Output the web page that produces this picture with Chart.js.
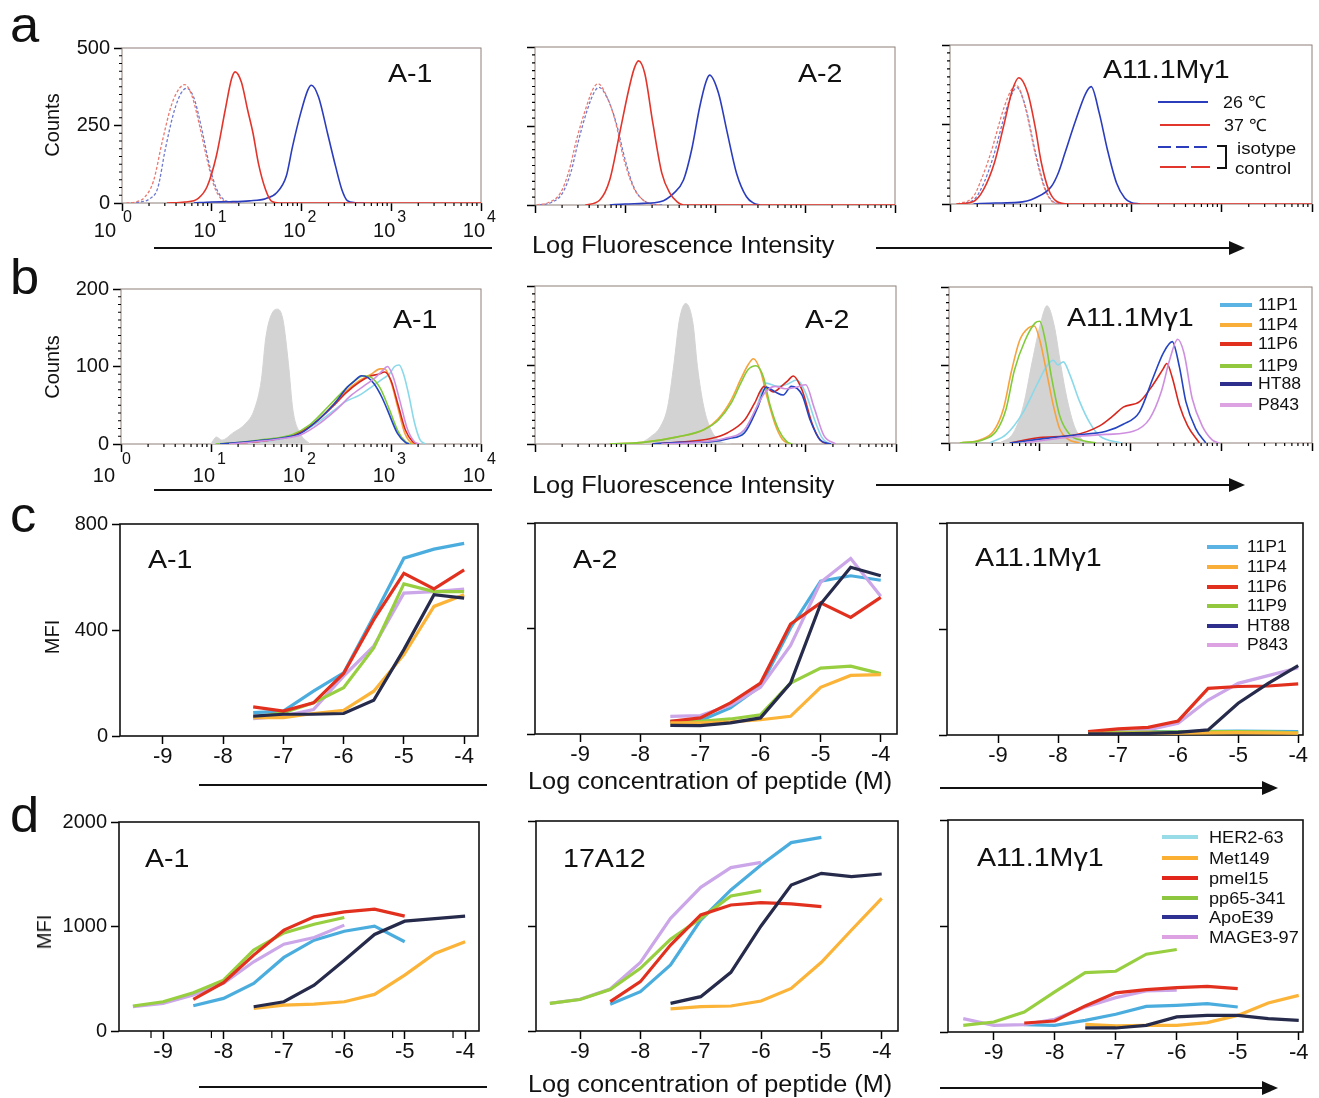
<!DOCTYPE html>
<html>
<head>
<meta charset="utf-8">
<title>Peptide binding panels</title>
<script src="https://cdn.jsdelivr.net/npm/chart.js@4.4.1/dist/chart.umd.min.js"></script>
<style>
html, body { margin: 0; padding: 0; background: #fff; }
#page { position: relative; width: 1319px; height: 1098px; overflow: hidden; font-family: 'Liberation Sans', Arial, sans-serif; color: #111; }
canvas { position: absolute; }
.t { position: absolute; white-space: nowrap; line-height: 1; transform-origin: 0 0; }
svg { position: absolute; left: 0; top: 0; }
</style>
</head>
<body>
<div id="page"></div>
<script>
// ---- histograms: x = log10 fluorescence, y = counts ----
const logDecades = [0, 1, 2, 3, 4];

// row a, A-1
const a1_iso26 = [[0.1,0],[0.2,3],[0.3,12],[0.4,50],[0.48,170],[0.58,295],[0.66,355],[0.72,370],[0.8,340],[0.88,250],[0.96,140],[1.04,55],[1.12,15],[1.22,2],[1.32,0]];
const a1_iso37 = [[0.05,0],[0.15,3],[0.25,18],[0.35,70],[0.45,200],[0.55,315],[0.64,370],[0.7,382],[0.78,345],[0.86,255],[0.94,150],[1.02,60],[1.1,15],[1.2,2],[1.3,0]];
const a1_t26 = [[0.8,0],[1.0,3],[1.2,4],[1.42,7],[1.6,14],[1.72,32],[1.83,86],[1.9,182],[1.99,289],[2.07,364],[2.11,380],[2.19,342],[2.29,225],[2.38,118],[2.45,43],[2.51,8],[2.6,1],[2.7,0]];
const a1_t37 = [[0.5,0],[0.7,3],[0.85,15],[0.95,54],[1.05,150],[1.15,300],[1.22,400],[1.26,423],[1.33,390],[1.4,300],[1.46,225],[1.52,128],[1.6,43],[1.67,5],[1.75,0],[4,0]];
// row a, A-2
const a2_iso26 = [[0.05,0],[0.18,8],[0.3,35],[0.4,105],[0.48,200],[0.58,300],[0.66,358],[0.71,372],[0.8,340],[0.9,262],[1.0,145],[1.1,55],[1.21,14],[1.32,2],[1.42,0]];
const a2_iso37 = [[0.02,0],[0.15,8],[0.28,37],[0.38,110],[0.46,205],[0.57,310],[0.65,370],[0.7,384],[0.8,342],[0.89,268],[0.98,153],[1.09,58],[1.2,16],[1.3,3],[1.39,0]];
const a2_t26 = [[0.83,0],[1.0,3],[1.2,5],[1.39,10],[1.54,37],[1.65,79],[1.74,174],[1.83,310],[1.9,390],[1.94,411],[2.04,353],[2.13,237],[2.24,100],[2.35,26],[2.43,6],[2.5,0]];
const a2_t37 = [[0.56,0],[0.72,16],[0.83,79],[0.94,226],[1.04,363],[1.1,430],[1.15,456],[1.22,416],[1.31,258],[1.41,100],[1.5,37],[1.58,10],[1.65,0],[4,0]];
// row a, A11.1Mγ1
const a3_iso26 = [[0.12,0],[0.28,18],[0.38,70],[0.48,150],[0.62,295],[0.7,355],[0.74,366],[0.83,310],[0.95,155],[1.06,42],[1.17,3],[1.27,0]];
const a3_iso37 = [[0.08,0],[0.26,24],[0.35,80],[0.45,160],[0.6,306],[0.68,360],[0.73,374],[0.82,317],[0.94,160],[1.05,45],[1.16,3],[1.25,0]];
const a3_t26 = [[0.26,0],[0.5,3],[0.75,5],[0.94,19],[1.12,55],[1.2,100],[1.27,160],[1.39,264],[1.5,348],[1.56,369],[1.65,285],[1.74,170],[1.84,66],[1.93,19],[2.0,5],[2.1,0]];
const a3_t37 = [[0.07,0],[0.26,8],[0.37,45],[0.49,129],[0.6,254],[0.69,359],[0.76,397],[0.86,348],[0.94,244],[1.01,129],[1.09,45],[1.18,8],[1.31,0],[4,0]];

// row b, A-1
const b1_ctrl = [[1.0,0],[1.06,9],[1.12,5],[1.24,14],[1.39,27],[1.48,44],[1.56,83],[1.61,138],[1.69,171],[1.74,174],[1.8,160],[1.86,104],[1.91,44],[1.99,14],[2.1,0]];
const b1_11P1 = [[1.15,0],[1.4,2],[1.7,5],[1.95,12],[2.15,25],[2.35,42],[2.5,55],[2.65,63],[2.8,75],[2.92,85],[2.98,90],[3.04,100],[3.09,102],[3.14,90],[3.2,62],[3.26,28],[3.32,6],[3.38,0]];
const b1_11P4 = [[1.1,0],[1.4,2],[1.7,6],[1.95,13],[2.15,27],[2.35,50],[2.5,68],[2.65,82],[2.78,90],[2.88,97],[2.93,97],[3.0,80],[3.08,45],[3.15,15],[3.22,2],[3.28,0]];
const b1_11P6 = [[1.1,0],[1.4,2],[1.7,6],[1.95,13],[2.15,27],[2.35,48],[2.5,66],[2.65,80],[2.78,88],[2.86,90],[2.93,93],[3.0,82],[3.08,50],[3.16,18],[3.24,3],[3.3,0]];
const b1_11P9 = [[1.05,0],[1.3,2],[1.6,6],[1.9,12],[2.1,25],[2.3,48],[2.45,66],[2.58,80],[2.7,88],[2.78,86],[2.88,72],[2.98,45],[3.08,16],[3.16,3],[3.22,0]];
const b1_HT88 = [[1.1,0],[1.3,2],[1.6,5],[1.8,8],[2.0,14],[2.19,31],[2.37,52],[2.52,74],[2.6,82],[2.67,88],[2.74,86],[2.81,78],[2.9,60],[2.96,44],[3.07,14],[3.16,2],[3.2,0]];
const b1_P843 = [[1.2,0],[1.5,3],[1.8,7],[2.0,12],[2.2,26],[2.4,45],[2.55,62],[2.7,75],[2.82,85],[2.9,94],[2.96,100],[3.02,88],[3.1,55],[3.18,20],[3.26,3],[3.32,0]];
// row b, A-2
const b2_ctrl = [[1.13,0],[1.2,3],[1.28,9],[1.39,22],[1.47,47],[1.54,102],[1.6,157],[1.67,178],[1.75,153],[1.8,98],[1.87,47],[1.95,18],[2.06,3],[2.17,0]];
const b2_11P1 = [[1.4,0],[1.8,2],[2.1,6],[2.3,14],[2.45,45],[2.56,77],[2.69,73],[2.8,76],[2.9,81],[3.0,64],[3.1,30],[3.18,8],[3.26,0]];
const b2_11P4 = [[0.83,0],[1.2,2],[1.58,9],[1.87,18],[2.03,32],[2.17,55],[2.28,82],[2.36,100],[2.42,108],[2.5,92],[2.57,60],[2.66,25],[2.74,6],[2.82,0]];
const b2_11P6 = [[1.3,0],[1.58,2],[1.95,7],[2.13,14],[2.32,30],[2.43,51],[2.54,73],[2.64,66],[2.73,73],[2.8,80],[2.86,86],[2.96,68],[3.07,26],[3.16,5],[3.24,0]];
const b2_11P9 = [[0.83,0],[1.2,2],[1.58,9],[1.87,18],[2.03,30],[2.17,51],[2.28,77],[2.36,94],[2.45,99],[2.53,85],[2.6,51],[2.7,18],[2.79,3],[2.85,0]];
const b2_HT88 = [[1.3,0],[1.6,2],[1.95,3],[2.15,7],[2.32,14],[2.47,47],[2.56,72],[2.66,66],[2.75,62],[2.84,73],[2.96,62],[3.05,30],[3.16,5],[3.28,0]];
const b2_P843 = [[1.4,0],[1.8,2],[2.1,7],[2.32,18],[2.45,45],[2.54,64],[2.66,73],[2.77,70],[2.9,72],[3.0,75],[3.09,47],[3.2,11],[3.33,0]];
// row b, A11.1Mγ1
const b3_ctrl = [[0.56,0],[0.71,13],[0.82,48],[0.92,106],[1.01,154],[1.08,176],[1.16,150],[1.23,101],[1.3,57],[1.38,22],[1.49,0]];
const b3_11P1 = [[0.45,0],[0.63,11],[0.82,40],[0.97,75],[1.08,99],[1.15,106],[1.2,100],[1.26,104],[1.33,88],[1.44,53],[1.55,26],[1.66,9],[1.9,0]];
const b3_11P4 = [[0.12,0],[0.34,4],[0.49,15],[0.6,44],[0.69,93],[0.78,132],[0.88,148],[0.94,150],[1.0,132],[1.08,88],[1.15,48],[1.22,18],[1.31,5],[1.44,0]];
const b3_11P6 = [[0.67,0],[1.0,7],[1.37,10],[1.66,22],[1.81,35],[1.92,46],[2.1,53],[2.25,75],[2.36,95],[2.4,102],[2.46,84],[2.54,48],[2.63,22],[2.76,0]];
const b3_11P9 = [[0.12,0],[0.37,4],[0.52,15],[0.63,44],[0.72,93],[0.84,132],[0.95,154],[1.0,156],[1.06,132],[1.13,84],[1.22,35],[1.33,11],[1.48,3],[1.62,0]];
const b3_HT88 = [[0.67,0],[1.0,5],[1.37,10],[1.73,15],[1.92,24],[2.1,40],[2.25,84],[2.36,115],[2.46,130],[2.54,97],[2.61,53],[2.72,18],[2.83,0]];
const b3_P843 = [[0.82,0],[1.37,8],[1.73,11],[2.03,15],[2.21,31],[2.34,66],[2.43,106],[2.52,133],[2.59,115],[2.68,57],[2.79,22],[2.9,4],[2.98,0]];

// ---- titrations: x = log concentration of peptide (M), y = MFI ----
const logConc = [-9.5, -9, -8.5, -8, -7.5, -7, -6.5, -6, -5.5, -5, -4.5, -4];
const concTicks = [-9, -8, -7, -6, -5, -4];
const d1_extraTicks = [-9.2, -8.2, -7.2, -6.2, -5.2, -4.2];
const _ = null;

// row c
const c1_11P1 = [_,_,_,_,88,94,169,238,451,671,705,727];
const c1_11P4 = [_,_,_,_,69,69,85,97,169,307,489,533];
const c1_11P6 = [_,_,_,_,110,94,125,236,439,614,555,627];
const c1_11P9 = [_,_,_,_,69,88,125,182,332,574,545,545];
const c1_HT88 = [_,_,_,_,75,82,82,85,135,326,533,520];
const c1_P843 = [_,_,_,_,65,75,100,226,339,539,545,554];

const c2_11P1 = [_,_,_,_,48,51,99,181,402,579,600,583];
const c2_11P4 = [_,_,_,_,42,42,46,54,67,177,222,225];
const c2_11P6 = [_,_,_,_,48,61,118,193,417,497,442,518];
const c2_11P9 = [_,_,_,_,46,48,57,73,193,250,257,229];
const c2_HT88 = [_,_,_,_,33,32,42,61,193,493,632,600];
const c2_P843 = [_,_,_,_,67,70,109,177,336,575,665,522];

const c3_11P1 = [_,_,_,_,10,12,13,13,14,15,14,13];
const c3_11P4 = [_,_,_,_,6,6,7,7,8,9,8,7];
const c3_11P6 = [_,_,_,_,13,23,29,53,176,183,185,193];
const c3_11P9 = [_,_,_,_,9,10,11,12,13,13,12,8];
const c3_HT88 = [_,_,_,_,4,4,6,10,19,120,195,262];
const c3_P843 = [_,_,_,_,6,10,19,44,132,195,224,254];

// row d
const d1_HER2 = [_,_,242,312,455,704,869,955,1003,854,_,_];
const d1_Met149 = [_,_,_,_,217,248,258,280,350,535,742,854];
const d1_pmel15 = [_,_,303,462,726,965,1092,1140,1166,1099,_,_];
const d1_pp65 = [239,280,366,487,774,939,1022,1086,_,_,_,_];
const d1_ApoE39 = [_,_,_,_,232,280,439,678,924,1051,1076,1099];
const d1_MAGE3 = [232,264,344,455,662,831,895,1013,_,_,_,_];

const d2_HER2 = [_,_,254,375,629,1057,1343,1581,1794,1844,_,_];
const d2_Met149 = [_,_,_,_,210,232,238,286,406,654,962,1263];
const d2_pmel15 = [_,_,279,470,819,1105,1200,1222,1210,1184,_,_];
const d2_pp65 = [263,300,395,597,873,1073,1286,1337,_,_,_,_];
const d2_ApoE39 = [_,_,_,_,263,327,559,1000,1390,1502,1470,1495];
const d2_MAGE3 = [263,302,400,654,1073,1368,1556,1606,_,_,_,_];

const d3_HER2 = [_,_,69,63,110,167,242,252,268,236,_,_];
const d3_Met149 = [_,_,_,_,72,57,63,63,88,157,274,346];
const d3_pmel15 = [_,_,85,104,246,369,400,419,431,409,_,_];
const d3_pp65 = [63,94,189,378,561,573,734,778,_,_,_,_];
const d3_ApoE39 = [_,_,_,_,38,38,63,142,157,157,126,110];
const d3_MAGE3 = [126,63,69,120,236,324,387,394,_,_,_,_];

const legendTemp = ['26 ℃', '37 ℃'];
const legendPep = ['11P1', '11P4', '11P6', '11P9', 'HT88', 'P843'];
const legendEpi = ['HER2-63', 'Met149', 'pmel15', 'pp65-341', 'ApoE39', 'MAGE3-97'];

// ---- styles ----
const FONT = "'Liberation Sans', Arial, sans-serif";
const H_BLUE = '#2b3dbd', H_RED = '#e2352b', H_BLUE_D = '#6f7ad2', H_RED_D = '#ea7a70';
const H_GRAY = '#d3d3d3';
const H_PEP = ['#8ad9ea', '#f6a23e', '#d8281e', '#80cb3a', '#2544c2', '#cf8fe0'];
const L_PEP = ['#4badde', '#fbb338', '#e2301f', '#97cf40', '#262a4b', '#cba6e8'];
const LEG_PEP = ['#5ab3e2', '#f9ae3a', '#e2301f', '#92c83e', '#2e2f8c', '#dca2e2'];
const LEG_EPI = ['#97dce6', '#fbb034', '#e2261c', '#8dc63f', '#2e3192', '#dca2e2'];

const page = document.getElementById('page');
const PAD_L = 75, PAD_R = 20, PAD_T = 20, PAD_B = 45;

const minorLog = [];
for (let d = 0; d < 4; d++) for (let k = 2; k < 10; k++) minorLog.push(d + Math.log10(k));
const minorStep = (max, step, skip) => {
    const out = [];
    for (let v = step; v < max; v += step) if (v % skip !== 0) out.push(v);
    return out;
};

function decor(cfg) {
    return {
        id: 'decor',
        beforeDatasetsDraw(chart) {
            const { ctx, chartArea: a } = chart;
            ctx.save();
            ctx.strokeStyle = cfg.boxColor;
            ctx.lineWidth = cfg.boxWidth;
            ctx.strokeRect(a.left, a.top, a.right - a.left, a.bottom - a.top);
            ctx.restore();
        },
        afterDraw(chart) {
            const { ctx, chartArea: a, scales } = chart;
            ctx.save();
            ctx.strokeStyle = '#000';
            ctx.lineWidth = 1.2;
            ctx.beginPath();
            (cfg.minorX || []).forEach(v => {
                const px = scales.x.getPixelForValue(v);
                ctx.moveTo(px, a.bottom); ctx.lineTo(px, a.bottom + cfg.minorLen);
            });
            (cfg.minorY || []).forEach(v => {
                const py = scales.y.getPixelForValue(v);
                ctx.moveTo(a.left, py); ctx.lineTo(a.left - cfg.minorLen, py);
            });
            ctx.stroke();
            if (cfg.pow10) {
                ctx.fillStyle = '#111';
                ctx.textBaseline = 'alphabetic';
                logDecades.forEach(n => {
                    const px = scales.x.getPixelForValue(n);
                    ctx.font = `20px ${FONT}`;
                    ctx.textAlign = 'right';
                    ctx.fillText('10', px + (n === 0 ? -6 : 4), a.bottom + cfg.pow10[0]);
                    ctx.font = `16px ${FONT}`;
                    ctx.textAlign = 'left';
                    ctx.fillText(String(n), px + (n === 0 ? 1 : 6), a.bottom + cfg.pow10[1]);
                });
            }
            ctx.restore();
        }
    };
}

function makeChart(box, cfg) {
    const w = box.R - box.L + PAD_L + PAD_R, h = box.B - box.T + PAD_T + PAD_B;
    const c = document.createElement('canvas');
    c.width = w; c.height = h;
    c.style.left = (box.L - PAD_L) + 'px';
    c.style.top = (box.T - PAD_T) + 'px';
    c.style.width = w + 'px'; c.style.height = h + 'px';
    page.appendChild(c);
    const tickGrid = { drawOnChartArea: false, drawTicks: true, tickLength: 8, tickColor: '#000', tickWidth: 1.5 };
    new Chart(c, {
        type: 'line',
        data: { datasets: cfg.datasets },
        options: {
            responsive: false,
            animation: false,
            devicePixelRatio: 1,
            spanGaps: false,
            layout: { padding: { left: 0, right: PAD_R, top: PAD_T, bottom: 0 } },
            elements: { point: { radius: 0, hoverRadius: 0 } },
            plugins: { legend: { display: false }, tooltip: { enabled: false } },
            scales: {
                x: {
                    type: 'linear', min: cfg.xMin, max: cfg.xMax,
                    afterBuildTicks: s => { s.ticks = cfg.xTicks.map(v => ({ value: v })); },
                    afterFit: s => { s.height = PAD_B; },
                    grid: tickGrid,
                    border: { display: false },
                    ticks: {
                        autoSkip: false, maxRotation: 0, padding: 0, color: '#111',
                        font: { family: FONT, size: 22 },
                        callback: v => (cfg.xLabels && Number.isInteger(v)) ? String(v) : ''
                    }
                },
                y: {
                    type: 'linear', min: 0, max: cfg.yMax,
                    afterBuildTicks: s => { s.ticks = cfg.yTicks.map(v => ({ value: v })); },
                    afterFit: s => { s.width = PAD_L; },
                    grid: tickGrid,
                    border: { display: false },
                    ticks: {
                        padding: 4, color: '#111',
                        font: { family: FONT, size: 20 },
                        callback: v => cfg.yLabels ? String(v) : ''
                    }
                }
            }
        },
        plugins: [decor(cfg)]
    });
}

const hist = (data, color, extra) => Object.assign({
    data: data.map(([x, y]) => ({ x, y })),
    borderColor: color, borderWidth: 1.6, fill: false,
    cubicInterpolationMode: 'monotone'
}, extra || {});
const dashed = (data, color) => hist(data, color, { borderDash: [3, 2], borderWidth: 1.3 });
const ctrl = data => hist(data, H_GRAY, { backgroundColor: H_GRAY, borderWidth: 1, fill: 'origin', order: 10 });
const curve = (vals, color) => ({
    data: logConc.map((x, i) => ({ x, y: vals[i] })),
    borderColor: color, borderWidth: 3.2, tension: 0, fill: false
});

// ---- row a ----
const rowA = { xMin: 0, xMax: 4, xTicks: logDecades, yMax: 500, yTicks: [0, 250, 500],
    boxColor: '#8e7f77', boxWidth: 1, minorX: minorLog, minorY: minorStep(500, 25, 250), minorLen: 3 };
makeChart({ L: 122, T: 48, R: 481, B: 203 }, Object.assign({}, rowA, { yLabels: true, pow10: [34, 19],
    datasets: [hist(a1_t37, H_RED), hist(a1_t26, H_BLUE), dashed(a1_iso37, H_RED_D), dashed(a1_iso26, H_BLUE_D)] }));
makeChart({ L: 535, T: 47, R: 895, B: 205 }, Object.assign({}, rowA, {
    datasets: [hist(a2_t37, H_RED), hist(a2_t26, H_BLUE), dashed(a2_iso37, H_RED_D), dashed(a2_iso26, H_BLUE_D)] }));
makeChart({ L: 950, T: 45, R: 1312, B: 204 }, Object.assign({}, rowA, {
    datasets: [hist(a3_t37, H_RED), hist(a3_t26, H_BLUE), dashed(a3_iso37, H_RED_D), dashed(a3_iso26, H_BLUE_D)] }));

// ---- row b ----
const rowB = { xMin: 0, xMax: 4, xTicks: logDecades, yMax: 200, yTicks: [0, 100, 200],
    boxColor: '#8e7f77', boxWidth: 1, minorX: minorLog, minorY: minorStep(200, 10, 100), minorLen: 3 };
const pepHist = sets => sets.map((s, i) => hist(s, H_PEP[i])).reverse();
makeChart({ L: 121, T: 289, R: 481, B: 444 }, Object.assign({}, rowB, { yLabels: true, pow10: [38, 20],
    datasets: [...pepHist([b1_11P1, b1_11P4, b1_11P6, b1_11P9, b1_HT88, b1_P843]), ctrl(b1_ctrl)] }));
makeChart({ L: 535, T: 286, R: 896, B: 444 }, Object.assign({}, rowB, {
    datasets: [...pepHist([b2_11P1, b2_11P4, b2_11P6, b2_11P9, b2_HT88, b2_P843]), ctrl(b2_ctrl)] }));
makeChart({ L: 949, T: 287, R: 1312, B: 443 }, Object.assign({}, rowB, {
    datasets: [...pepHist([b3_11P1, b3_11P4, b3_11P6, b3_11P9, b3_HT88, b3_P843]), ctrl(b3_ctrl)] }));

// ---- rows c and d ----
const lines = sets => [4, 1, 2, 3, 5, 0].map(i => curve(sets[i], L_PEP[i]));
const rowC = { xTicks: concTicks, xLabels: true, yMax: 800, yTicks: [0, 400, 800], boxColor: '#111', boxWidth: 1.6 };
makeChart({ L: 120, T: 524, R: 478, B: 736 }, Object.assign({}, rowC, { xMin: -9.71, xMax: -3.77, yLabels: true,
    datasets: lines([c1_11P1, c1_11P4, c1_11P6, c1_11P9, c1_HT88, c1_P843]) }));
makeChart({ L: 535, T: 523, R: 897, B: 734 }, Object.assign({}, rowC, { xMin: -9.75, xMax: -3.73,
    datasets: lines([c2_11P1, c2_11P4, c2_11P6, c2_11P9, c2_HT88, c2_P843]) }));
makeChart({ L: 947, T: 523, R: 1303, B: 735 }, Object.assign({}, rowC, { xMin: -9.85, xMax: -3.92,
    datasets: lines([c3_11P1, c3_11P4, c3_11P6, c3_11P9, c3_HT88, c3_P843]) }));

const rowD = { xTicks: concTicks, xLabels: true, yMax: 2000, yTicks: [0, 1000, 2000], boxColor: '#111', boxWidth: 1.6 };
makeChart({ L: 119, T: 822, R: 479, B: 1031 }, Object.assign({}, rowD, { xMin: -9.73, xMax: -3.77, yLabels: true,
    minorX: d1_extraTicks, minorLen: 7,
    datasets: lines([d1_HER2, d1_Met149, d1_pmel15, d1_pp65, d1_ApoE39, d1_MAGE3]) }));
makeChart({ L: 536, T: 821, R: 898, B: 1031 }, Object.assign({}, rowD, { xMin: -9.73, xMax: -3.73,
    datasets: lines([d2_HER2, d2_Met149, d2_pmel15, d2_pp65, d2_ApoE39, d2_MAGE3]) }));
makeChart({ L: 948, T: 820, R: 1303, B: 1032 }, Object.assign({}, rowD, { xMin: -9.75, xMax: -3.93,
    datasets: lines([d3_HER2, d3_Met149, d3_pmel15, d3_pp65, d3_ApoE39, d3_MAGE3]) }));

// ---- text ----
function txt(s, x, base, size, sx) {
    const d = document.createElement('div');
    d.className = 't';
    d.textContent = s;
    d.style.fontSize = size + 'px';
    d.style.left = x + 'px';
    d.style.top = (base - size * 0.846) + 'px';
    d.style.transform = `scaleX(${sx || 1.1})`;
    page.appendChild(d);
}
function vtxt(s, cx, cy, size) {
    const d = document.createElement('div');
    d.className = 't';
    d.textContent = s;
    d.style.fontSize = size + 'px';
    d.style.left = cx + 'px';
    d.style.top = cy + 'px';
    d.style.transformOrigin = '50% 50%';
    d.style.transform = 'translate(-50%, -50%) rotate(-90deg)';
    page.appendChild(d);
}

[['a', 42], ['b', 294], ['c', 532], ['d', 832]].forEach(([s, y]) => txt(s, 10, y, 50, 1.05));
vtxt('Counts', 52, 125, 20);
vtxt('Counts', 52, 367, 20);
vtxt('MFI', 52, 637, 20);
vtxt('MFI', 44, 932, 20);

txt('A-1', 388, 82, 26); txt('A-2', 798, 82, 26); txt('A11.1Mγ1', 1103, 78, 26);
txt('A-1', 393, 328, 26); txt('A-2', 805, 328, 26); txt('A11.1Mγ1', 1067, 326, 26);
txt('A-1', 148, 568, 26); txt('A-2', 573, 568, 26); txt('A11.1Mγ1', 975, 566, 26);
txt('A-1', 145, 867, 26); txt('17A12', 563, 867, 26); txt('A11.1Mγ1', 977, 866, 26);

txt('Log Fluorescence Intensity', 532, 253, 23);
txt('Log Fluorescence Intensity', 532, 493, 23);
txt('Log concentration of peptide (M)', 528, 789, 23);
txt('Log concentration of peptide (M)', 528, 1092, 23);

// legends
txt(legendTemp[0], 1223, 108, 17, 1.05);
txt(legendTemp[1], 1224, 131, 17, 1.05);
txt('isotype', 1237, 154, 17);
txt('control', 1235, 174, 17);
const legB = [305, 325, 344, 366, 384, 405];
const legC = [547, 567, 587, 606, 626, 645];
const legD = [837, 858, 878, 898, 917, 937];
legendPep.forEach((s, i) => { txt(s, 1258, legB[i] + 6, 16); txt(s, 1247, legC[i] + 6, 16); });
legendEpi.forEach((s, i) => txt(s, 1209, legD[i] + 6, 16.5));

// rules, arrows, legend keys
let svg = '<svg width="1319" height="1098" xmlns="http://www.w3.org/2000/svg">';
const hline = (x1, x2, y, col, w, dash) =>
    `<line x1="${x1}" y1="${y}" x2="${x2}" y2="${y}" stroke="${col}" stroke-width="${w}"${dash ? ` stroke-dasharray="${dash}"` : ''}/>`;
const arrow = (x1, x2, y) => hline(x1, x2 - 12, y, '#111', 2) +
    `<polygon points="${x2},${y} ${x2 - 16},${y - 7} ${x2 - 16},${y + 7}" fill="#111"/>`;
svg += hline(154, 492, 248, '#111', 2) + arrow(876, 1245, 248);
svg += hline(154, 492, 490, '#111', 2) + arrow(876, 1245, 485);
svg += hline(199, 487, 785, '#111', 2) + arrow(940, 1278, 788);
svg += hline(199, 487, 1087, '#111', 2) + arrow(940, 1278, 1088);
svg += hline(1158, 1208, 102, H_BLUE, 2) + hline(1160, 1210, 125, H_RED, 2);
svg += hline(1158, 1208, 147, H_BLUE, 2, '13 5') + hline(1160, 1210, 167, H_RED, 2, '26 5');
svg += '<path d="M1217 146 H1226 V168 H1217" fill="none" stroke="#111" stroke-width="2"/>';
legB.forEach((y, i) => { svg += hline(1220, 1252, y, LEG_PEP[i], 4); });
legC.forEach((y, i) => { svg += hline(1207, 1238, y, LEG_PEP[i], 4); });
legD.forEach((y, i) => { svg += hline(1162, 1198, y, LEG_EPI[i], 4); });
svg += '</svg>';
page.insertAdjacentHTML('beforeend', svg);
</script>
</body>
</html>
